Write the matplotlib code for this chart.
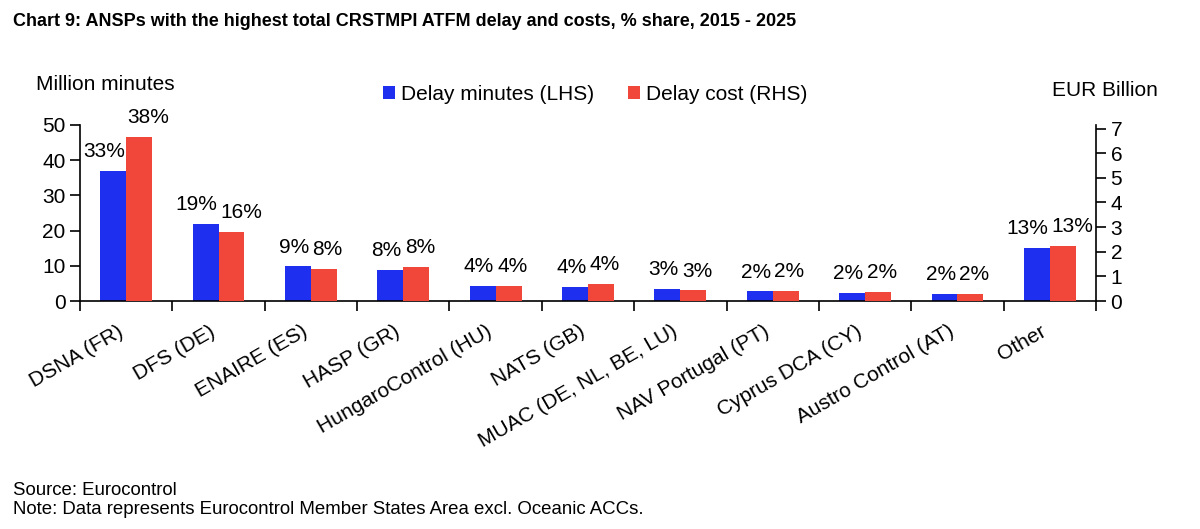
import matplotlib
matplotlib.use("Agg")
import matplotlib.pyplot as plt
import numpy as np

plt.rcParams['font.family'] = ['Liberation Sans', 'DejaVu Sans']

# data
anspy = ["DSNA (FR)", "DFS (DE)", "ENAIRE (ES)", "HASP (GR)", "HungaroControl (HU)",
         "NATS (GB)", "MUAC (DE, NL, BE, LU)", "NAV Portugal (PT)", "Cyprus DCA (CY)",
         "Austro Control (AT)", "Other"]
delay_minutes = [36.9, 21.8, 9.8, 8.9, 4.3, 4.1, 3.5, 2.7, 2.3, 2.0, 15.1]   # million minutes
delay_cost = [6.65, 2.80, 1.31, 1.38, 0.61, 0.69, 0.43, 0.41, 0.35, 0.28, 2.25]  # EUR billion
share_minutes = ["33%", "19%", "9%", "8%", "4%", "4%", "3%", "2%", "2%", "2%", "13%"]
share_cost = ["38%", "16%", "8%", "8%", "4%", "4%", "3%", "2%", "2%", "2%", "13%"]

modra = "#1E2FF0"
rdeca = "#F0473A"
fs = 15

fig = plt.figure(figsize=(12, 5.29), dpi=100)
ax = fig.add_axes([0.0667, 0.431, 0.8466, 0.333])
ax2 = ax.twinx()

x = np.arange(len(anspy))
w = 0.28
b1 = ax.bar(x - w / 2, delay_minutes, w, color=modra, label="Delay minutes (LHS)")
b2 = ax2.bar(x + w / 2, delay_cost, w, color=rdeca, label="Delay cost (RHS)")

napisi_m = []
napisi_c = []
for r, s in zip(b1, share_minutes):
    napisi_m.append(ax.annotate(s, (r.get_x() + r.get_width() / 2, r.get_height()), xytext=(0, 10),
                                textcoords="offset points", ha="center", va="baseline", fontsize=fs))
for r, s in zip(b2, share_cost):
    napisi_c.append(ax2.annotate(s, (r.get_x() + r.get_width() / 2, r.get_height()), xytext=(0, 10),
                                 textcoords="offset points", ha="center", va="baseline", fontsize=fs))

ax.set_xlim(-0.5, len(anspy) - 0.5)
ax.set_ylim(0, 50)
ax2.set_ylim(0, 7.15)
ax.set_yticks(range(0, 51, 10))
ax2.set_yticks(range(0, 8))

ax.set_xticks(x)
ax.set_xticklabels(anspy, rotation=30, ha="right", fontsize=fs)
ax.set_xticks(np.arange(-0.5, len(anspy), 1), minor=True)
ax.tick_params(axis="x", which="major", length=0, pad=15)
ax.tick_params(axis="x", which="minor", length=7, width=1.2, direction="out")
ax.tick_params(axis="y", labelsize=fs, length=7, width=1.2, direction="out")
ax2.tick_params(axis="y", labelsize=fs, length=7, width=1.2, direction="out")

for a in (ax, ax2):
    a.spines["top"].set_visible(False)
    for s in ("left", "right", "bottom"):
        a.spines[s].set_linewidth(1.2)
ax.spines["right"].set_visible(False)
ax2.spines["left"].set_visible(False)
ax2.spines["bottom"].set_visible(False)

fig.text(0.03, 0.841, "Million minutes", fontsize=fs, ha="left", va="center")
fig.text(0.965, 0.828, "EUR Billion", fontsize=fs, ha="right", va="center")

fig.legend(handles=[b1, b2], loc="center", bbox_to_anchor=(0.496, 0.822), ncol=2,
           frameon=False, fontsize=fs, handlelength=0.6, handleheight=0.6,
           handletextpad=0.3, columnspacing=1.6)

fig.text(0.011, 0.959, "Chart 9: ANSPs with the highest total CRSTMPI ATFM delay and costs, % share, 2015 - 2025",
         fontsize=13, fontweight="bold", ha="left", va="center")
fig.text(0.011, 0.073, "Source: Eurocontrol", fontsize=13.4, ha="left", va="center")
fig.text(0.011, 0.036, "Note: Data represents Eurocontrol Member States Area excl. Oceanic ACCs.",
         fontsize=13.4, ha="left", va="center")

# razmakni napise, ki se prekrivajo
fig.canvas.draw()
rend = fig.canvas.get_renderer()
for tm, tc in zip(napisi_m, napisi_c):
    bm = tm.get_window_extent(rend)
    bc = tc.get_window_extent(rend)
    prekrivanje = bm.x1 - bc.x0 + 3
    if prekrivanje > 0:
        d = prekrivanje / 2 * 72 / fig.dpi
        tm.set_position((-d, 10))
        tc.set_position((d, 10))

fig.savefig("out.png", dpi=100)
